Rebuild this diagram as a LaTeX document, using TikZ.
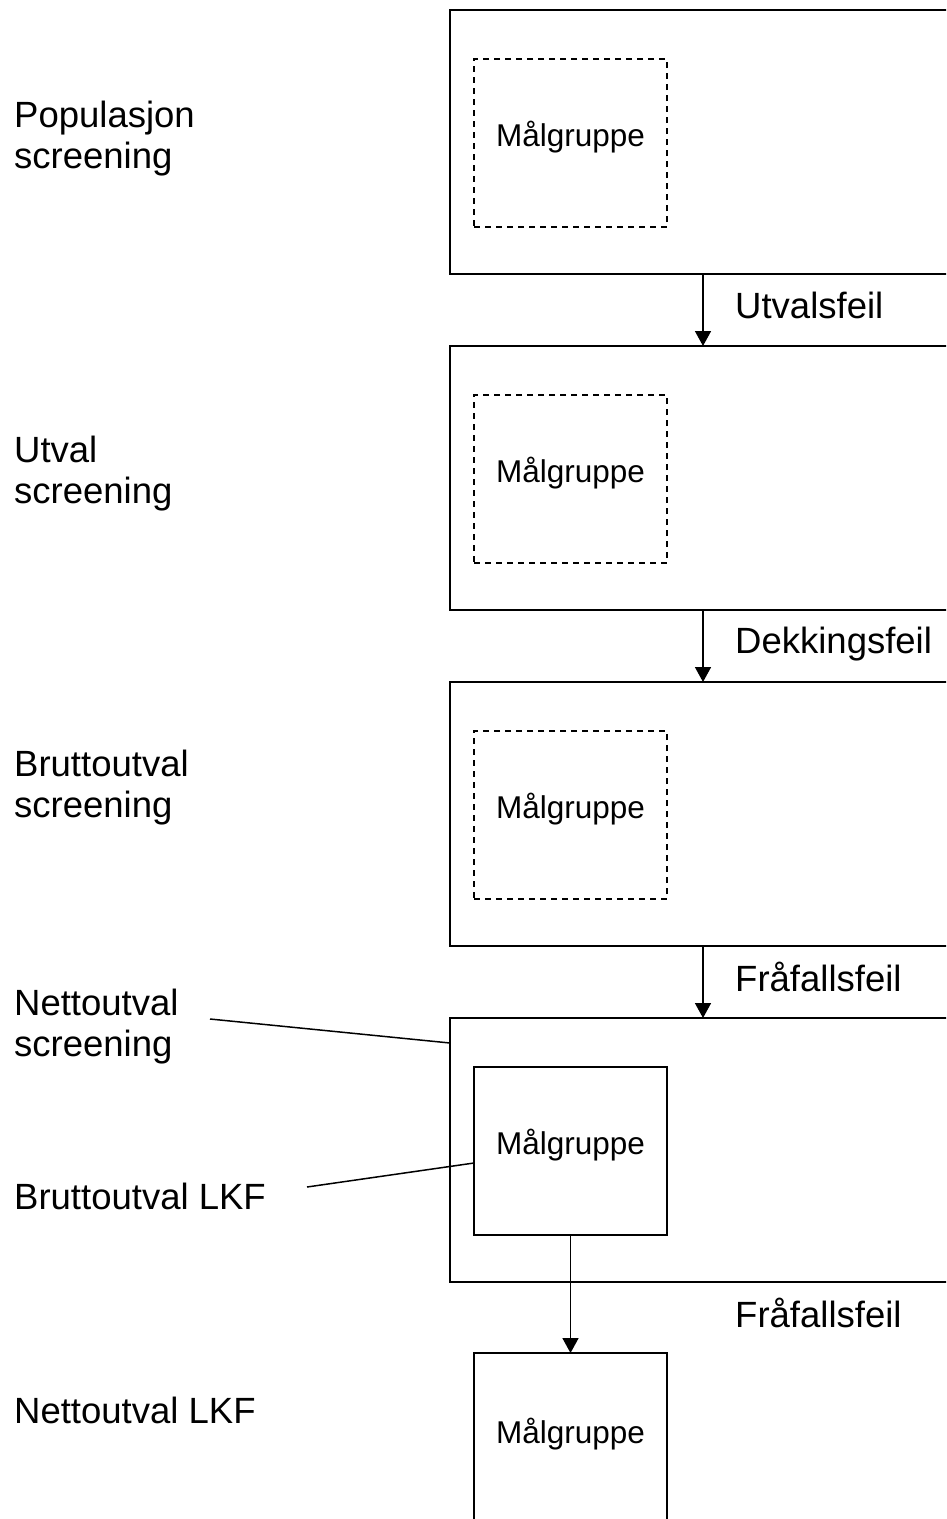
\documentclass[tikz,border=0pt]{standalone}
\usepackage{fontspec}
\setmainfont{Liberation Sans}
\usetikzlibrary{arrows.meta}
\begin{document}
\begin{tikzpicture}[x=1pt,y=-1pt,
  big/.style={draw, line width=1.8pt, minimum width=506pt, minimum height=264pt, inner sep=0pt, outer sep=0pt, anchor=north west},
  grp/.style={draw, line width=1.6pt, minimum width=193pt, minimum height=168pt, inner sep=0pt, outer sep=0pt, anchor=north west,
    font=\fontsize{31.5}{36}\selectfont, text height=26pt, text depth=20pt},
  dgrp/.style={grp, line width=1.4pt, dash pattern=on 6pt off 5pt},
  lbl/.style={font=\fontsize{36.5}{41}\selectfont, align=left, anchor=base west, inner sep=0pt},
  arr/.style={-{Triangle[width=16pt,length=15pt]}, line width=1.6pt},
  leader/.style={line width=1.5pt}]
\clip (0,0) rectangle (946,1519);
% big boxes
\node[big] (box1) at (450,10) {};
\node[big] (box2) at (450,346) {};
\node[big] (box3) at (450,682) {};
\node[big] (box4) at (450,1018) {};
% target groups
\node[dgrp] (g1) at (474,59) {Målgruppe};
\node[dgrp] (g2) at (474,395) {Målgruppe};
\node[dgrp] (g3) at (474,731) {Målgruppe};
\node[grp] (g4) at (474,1067) {Målgruppe};
\node[grp, minimum height=200pt, text height=10pt, text depth=30pt] (g5) at (474,1353) {Målgruppe};
% left labels (anchor at baseline of last line)
\node[lbl] (l1) at (14,168) {Populasjon\\screening};
\node[lbl] (l2) at (14,503) {Utval\\screening};
\node[lbl] (l3) at (14,817) {Bruttoutval\\screening};
\node[lbl] (l4) at (14,1056) {Nettoutval\\screening};
\node[lbl] (l5) at (14,1209) {Bruttoutval LKF};
\node[lbl] (l6) at (14,1423) {Nettoutval LKF};
% edge labels
\node[lbl] (e1) at (735,318) {Utvalsfeil};
\node[lbl] (e2) at (735,653) {Dekkingsfeil};
\node[lbl] (e3) at (735,991) {Fråfallsfeil};
\node[lbl] (e4) at (735,1327) {Fråfallsfeil};
% arrows
\draw[arr] (box1.south) -- (box2.north);
\draw[arr] (box2.south) -- (box3.north);
\draw[arr] (box3.south) -- (box4.north);
\draw[arr] (g4.south) -- (g5.north);
% leaders
\coordinate (c4) at (210,1019);
\coordinate (c5) at (307,1187);
\draw[leader] (c4) -- ([yshift=-25pt]box4.north west);
\draw[leader] (c5) -- ([yshift=-12pt]g4.west);
\end{tikzpicture}
\end{document}
